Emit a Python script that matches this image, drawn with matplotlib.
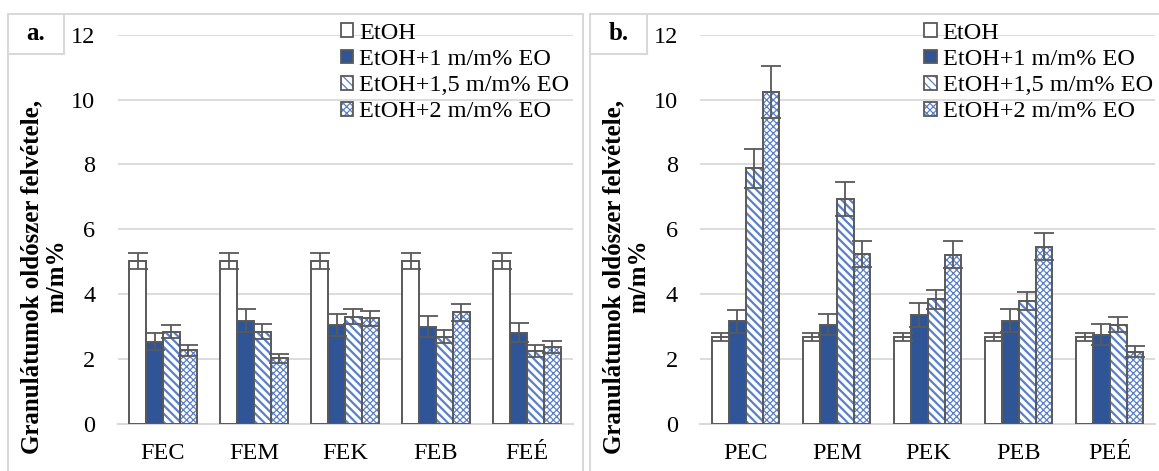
import matplotlib
matplotlib.use("Agg")
import matplotlib.pyplot as plt
import numpy as np
from matplotlib.patches import Patch
from matplotlib.lines import Line2D

# ---------------- data ----------------
cats_a = ["FEC", "FEM", "FEK", "FEB", "FEÉ"]
cats_b = ["PEC", "PEM", "PEK", "PEB", "PEÉ"]
series_names = ["EtOH", "EtOH+1 m/m% EO", "EtOH+1,5 m/m% EO", "EtOH+2 m/m% EO"]

a_etoh = [5.02, 5.02, 5.02, 5.02, 5.02]
a_eo1 = [2.54, 3.18, 3.05, 3.00, 2.82]
a_eo15 = [2.84, 2.85, 3.31, 2.69, 2.26]
a_eo2 = [2.28, 2.02, 3.26, 3.45, 2.37]
a_etoh_err = [0.25, 0.25, 0.25, 0.25, 0.25]
a_eo1_err = [0.27, 0.35, 0.33, 0.33, 0.30]
a_eo15_err = [0.20, 0.22, 0.24, 0.20, 0.18]
a_eo2_err = [0.17, 0.15, 0.23, 0.26, 0.18]

b_etoh = [2.69, 2.69, 2.69, 2.69, 2.69]
b_eo1 = [3.16, 3.06, 3.35, 3.19, 2.75]
b_eo15 = [7.89, 6.94, 3.84, 3.79, 3.06]
b_eo2 = [10.23, 5.23, 5.22, 5.47, 2.23]
b_etoh_err = [0.13, 0.13, 0.13, 0.13, 0.13]
b_eo1_err = [0.34, 0.33, 0.37, 0.36, 0.33]
b_eo15_err = [0.60, 0.53, 0.30, 0.28, 0.23]
b_eo2_err = [0.80, 0.40, 0.41, 0.43, 0.16]

yticks = [0, 2, 4, 6, 8, 10, 12]
ylabel = "Granulátumok oldószer felvétele,\nm/m%"

# ---------------- style ----------------
W, H = 1159, 471
DPI = 100
SERIF = ["Liberation Serif", "DejaVu Serif"]
plt.rcParams["font.family"] = SERIF

DARK = "#2F5597"
HATCHC = "#5A80CA"
EDGE = "#595959"
GRID = "#D9D9D9"

fig = plt.figure(figsize=(W / DPI, H / DPI), dpi=DPI)


def fx(px):
    return px / W


def fy(py):
    return 1 - py / H


styles = [
    dict(face="white", hatch=None, hlw=1.0),
    dict(face=DARK, hatch=None, hlw=1.0),
    dict(face="white", hatch="\\" * 4, hlw=1.6),
    dict(face="white", hatch="x" * 5, hlw=0.9),
]


def draw_bars(ax, x, vals, errs, st, w):
    if st["hatch"]:
        plt.rcParams["hatch.linewidth"] = st["hlw"]
        ax.bar(x, vals, w, color="white", edgecolor=HATCHC, hatch=st["hatch"],
               linewidth=0, zorder=2)
        ax.bar(x, vals, w, fill=False, edgecolor=EDGE, linewidth=1.4, zorder=3)
    else:
        ax.bar(x, vals, w, color=st["face"], edgecolor=EDGE, linewidth=1.4, zorder=3)
    ax.errorbar(x, vals, yerr=errs, fmt="none", ecolor=EDGE, elinewidth=1.3,
                capsize=7, capthick=1.3, zorder=4)


def panel(left_px, cats, data, errs):
    ax = fig.add_axes([fx(left_px), fy(424), fx(455), (424 - 34.7) / H])
    x = np.arange(len(cats))
    w = 0.185
    offs = [-1.5, -0.5, 0.5, 1.5]
    for i in range(4):
        draw_bars(ax, x + offs[i] * w, data[i], errs[i], styles[i], w)
    ax.set_xlim(-0.5, len(cats) - 0.5)
    ax.set_ylim(0, 12)
    ax.set_yticks(yticks)
    ax.set_xticks(x)
    ax.set_xticklabels(cats)
    ax.tick_params(axis="both", length=0, labelsize=17.5, colors="black")
    ax.tick_params(axis="y", pad=16)
    ax.tick_params(axis="x", pad=14)
    ax.grid(axis="y", color=GRID, linewidth=1.3, zorder=0)
    ax.set_axisbelow(True)
    for s in ["top", "right", "left"]:
        ax.spines[s].set_visible(False)
    ax.spines["bottom"].set_color(GRID)
    ax.spines["bottom"].set_linewidth(1.5)
    ax.patch.set_alpha(0)
    return ax


ax_a = panel(117.5, cats_a, [a_etoh, a_eo1, a_eo15, a_eo2],
             [a_etoh_err, a_eo1_err, a_eo15_err, a_eo2_err])
ax_b = panel(700.3, cats_b, [b_etoh, b_eo1, b_eo15, b_eo2],
             [b_etoh_err, b_eo1_err, b_eo15_err, b_eo2_err])


def make_handles():
    hs = []
    for st in styles:
        plt.rcParams["hatch.linewidth"] = st["hlw"]
        if st["hatch"]:
            hs.append(Patch(facecolor="white", edgecolor=HATCHC, hatch=st["hatch"],
                            linewidth=0))
        else:
            hs.append(Patch(facecolor=st["face"], edgecolor=EDGE, linewidth=1.3))
    return hs


for ax, lx in [(ax_a, 341), (ax_b, 924.4)]:
    leg = ax.legend(make_handles(), series_names, loc="upper left",
                    bbox_to_anchor=(fx(lx), fy(23)), bbox_transform=fig.transFigure,
                    frameon=False, fontsize=17.5, handlelength=0.5, handleheight=0.5,
                    handletextpad=0.25, labelspacing=0.21, borderpad=0, borderaxespad=0)
    for t in leg.get_texts():
        t.set_color("black")

# y-labels
for cx in [44.3, 626.5]:
    fig.text(fx(cx), fy(276.5), ylabel, rotation=90, ha="center", va="center",
             fontsize=18, fontweight="bold", multialignment="center",
             linespacing=1.15, family=SERIF)


def line(x0, y0, x1, y1):
    fig.add_artist(Line2D([fx(x0), fx(x1)], [fy(y0), fy(y1)], color=GRID,
                          linewidth=1.5, transform=fig.transFigure))


line(8, 14, 8, 471)
line(8, 14, 583, 14)
line(583, 14, 583, 471)
line(590, 14, 590, 471)
line(590, 14, 1159, 14)
line(63.6, 14, 63.6, 54)
line(8, 54, 63.6, 54)
line(646.6, 14, 646.6, 54)
line(590, 54, 646.6, 54)

fig.text(fx(35.8), fy(34), "a.", ha="center", va="center", fontsize=18,
         fontweight="bold", family=SERIF)
fig.text(fx(618.3), fy(34), "b.", ha="center", va="center", fontsize=18,
         fontweight="bold", family=SERIF)

fig.canvas.draw()
for ax in [ax_a, ax_b]:
    leg = ax.get_legend()
    for h in leg.legend_handles:
        if h.get_hatch():
            bb = h.get_window_extent()
            fig.add_artist(matplotlib.patches.Rectangle(
                (bb.x0 / W, bb.y0 / H), bb.width / W, bb.height / H,
                fill=False, edgecolor=EDGE, linewidth=1.3,
                transform=fig.transFigure, zorder=10))

fig.savefig("out.png", dpi=DPI)
